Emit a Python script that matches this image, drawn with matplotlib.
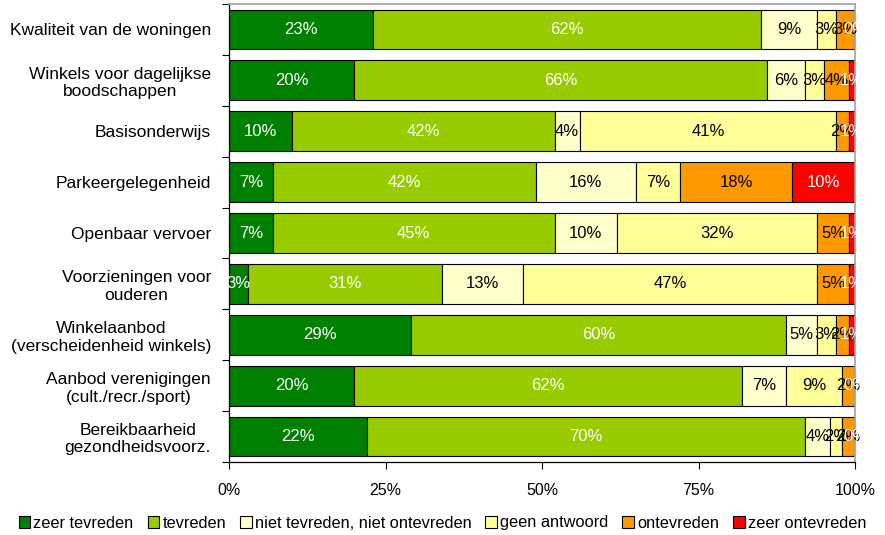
import matplotlib
matplotlib.use("Agg")
import matplotlib.pyplot as plt
import numpy as np

plt.rcParams['font.family'] = ['Liberation Sans', 'DejaVu Sans']

categories = [
    "Kwaliteit van de woningen",
    "Winkels voor dagelijkse\nboodschappen",
    "Basisonderwijs",
    "Parkeergelegenheid",
    "Openbaar vervoer",
    "Voorzieningen voor\nouderen",
    "Winkelaanbod\n(verscheidenheid winkels)",
    "Aanbod verenigingen\n(cult./recr./sport)",
    "Bereikbaarheid\ngezondheidsvoorz.",
]
series_names = ["zeer tevreden", "tevreden", "niet tevreden, niet ontevreden",
                "geen antwoord", "ontevreden", "zeer ontevreden"]
zeer_tevreden = [23, 20, 10, 7, 7, 3, 29, 20, 22]
tevreden = [62, 66, 42, 42, 45, 31, 60, 62, 70]
niet_niet = [9, 6, 4, 16, 10, 13, 5, 7, 4]
geen_antwoord = [3, 3, 41, 7, 32, 47, 3, 9, 2]
ontevreden = [3, 4, 2, 18, 5, 5, 2, 2, 2]
zeer_ontevreden = [0, 1, 1, 10, 1, 1, 1, 0, 0]
x_ticks = [0, 25, 50, 75, 100]
x_ticklabels = ["0%", "25%", "50%", "75%", "100%"]

series = [zeer_tevreden, tevreden, niet_niet, geen_antwoord, ontevreden, zeer_ontevreden]
colors = ["#008000", "#99CC00", "#FFFFCC", "#FFFF99", "#FF9900", "#FF0000"]
text_colors = ["white", "white", "black", "black", "black", "white"]

fig = plt.figure(figsize=(8.85, 5.35), dpi=100)
ax = fig.add_axes([229/885, 1-462/535, (855-229)/885, (462-4)/535])

y = np.arange(len(categories))
left = np.zeros(len(categories))
for vals, col, tcol, name in zip(series, colors, text_colors, series_names):
    vals = np.array(vals, dtype=float)
    ax.barh(y, vals, left=left, height=0.78, color=col, edgecolor="black",
            linewidth=0.8, label=name)
    for yi, (l, v) in enumerate(zip(left, vals)):
        ax.text(l + v/2, yi, f"{int(v)}%", ha="center", va="center",
                color=tcol, fontsize=12)
    left += vals

ax.set_xlim(0, 100)
ax.set_ylim(len(categories) - 0.5, -0.5)
ax.set_xticks(x_ticks)
ax.set_xticklabels(x_ticklabels, fontsize=11.5)
ax.tick_params(axis='x', length=5, width=0.8, pad=10, direction='out')
ax.set_yticks(y)
ax.set_yticklabels(categories, fontsize=12.5, multialignment='center')
ax.tick_params(axis='y', which='major', length=0, pad=13)
ax.set_yticks(np.arange(-0.5, len(categories)), minor=True)
ax.tick_params(axis='y', which='minor', length=5, width=0.8, direction='out')

for s in ['left', 'bottom']:
    ax.spines[s].set_color('black')
    ax.spines[s].set_linewidth(0.9)
for s in ['top', 'right']:
    ax.spines[s].set_color('#A0A0A0')
    ax.spines[s].set_linewidth(1.2)

handles, labels = ax.get_legend_handles_labels()
fig.legend(handles, labels, loc='center', bbox_to_anchor=(0.5, 1-523/535), ncol=6,
           frameon=False, prop={'size': 11.8},
           handlelength=0.7, handleheight=0.7,
           handletextpad=0.2, columnspacing=0.85, borderaxespad=0)

fig.savefig("out.png", dpi=100)
